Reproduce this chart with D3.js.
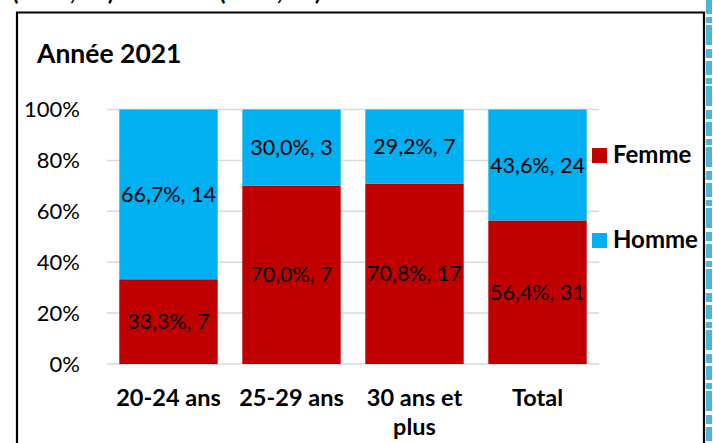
<!DOCTYPE html>
<html>
<head>
<meta charset="utf-8">
<script src="https://cdn.jsdelivr.net/npm/d3@7"></script>
<style>
  body { margin: 0; background: #fff; }
  svg { display: block; font-family: Lato, "Open Sans", sans-serif; }
</style>
</head>
<body>
<div id="chart"></div>
<script>
const categories = ["20-24 ans", "25-29 ans", "30 ans et plus", "Total"];
const categoryLines = [["20-24 ans"], ["25-29 ans"], ["30 ans et", "plus"], ["Total"]];
const femmePct = [33.3, 70.0, 70.8, 56.4];
const femmeCount = [7, 7, 17, 31];
const hommePct = [66.7, 30.0, 29.2, 43.6];
const hommeCount = [14, 3, 7, 24];
const yTicks = [0, 20, 40, 60, 80, 100];
const seriesNames = ["Femme", "Homme"];
const seriesColors = ["#C00000", "#00B0F0"];

document.addEventListener('DOMContentLoaded', function() {
    const width = 713, height = 443;
    const plot = {left: 107, right: 599, top: 109.5, bottom: 364};

    let svg = d3.select("#chart").append("svg")
        .attr("width", width)
        .attr("height", height);

    // text above the frame, cut off by the top edge as in the original
    svg.append("text").attr("x", 12).attr("y", 0)
        .attr("font-weight", "bold").attr("font-size", 24)
        .text("(en %, nb)");
    svg.append("text").attr("x", 219).attr("y", 0)
        .attr("font-weight", "bold").attr("font-size", 24)
        .text("(en %, nb)");

    // frame
    svg.append("path")
        .attr("d", `M17,${height + 5} V12.5 H704 V${height + 5}`)
        .attr("fill", "none").attr("stroke", "#000").attr("stroke-width", 2.2);

    // blue decoration on right edge
    svg.append("line")
        .attr("x1", 709).attr("x2", 709).attr("y1", 0).attr("y2", height)
        .attr("stroke", "#4fb3e0").attr("stroke-width", 6)
        .attr("stroke-dasharray", "14 3 6 2 20 4 9 3");

    svg.append("text")
        .attr("x", 37).attr("y", 63)
        .attr("font-weight", "bold").attr("font-size", 26.5)
        .text("Année 2021");

    let x = d3.scaleBand()
        .domain(categories)
        .range([plot.left, plot.right])
        .paddingInner(0.2)
        .paddingOuter(0.1);

    let y = d3.scaleLinear()
        .domain([0, 100])
        .range([plot.bottom, plot.top]);

    // gridlines
    svg.append("g")
        .selectAll("line")
        .data(yTicks)
        .enter().append("line")
        .attr("x1", plot.left).attr("x2", plot.right)
        .attr("y1", d => y(d)).attr("y2", d => y(d))
        .attr("stroke", "#d9d9d9").attr("stroke-width", 1.5);

    // y tick labels
    svg.append("g")
        .selectAll("text")
        .data(yTicks)
        .enter().append("text")
        .attr("x", 80)
        .attr("y", d => y(d))
        .attr("dy", "0.35em")
        .attr("text-anchor", "end")
        .attr("font-size", 22)
        .text(d => d + "%");

    const fmt = v => d3.format(".1f")(v).replace(".", ",");

    let rows = categories.map((c, i) => ({
        cat: c,
        segs: [
            {s: 0, y0: 0, y1: femmePct[i], pct: femmePct[i], n: femmeCount[i]},
            {s: 1, y0: femmePct[i], y1: femmePct[i] + hommePct[i], pct: hommePct[i], n: hommeCount[i]}
        ]
    }));

    let bar = svg.append("g")
        .selectAll("g")
        .data(rows)
        .enter().append("g");

    bar.selectAll("rect")
        .data(d => d.segs.map(s => Object.assign({cat: d.cat}, s)))
        .enter().append("rect")
        .attr("x", d => x(d.cat))
        .attr("width", x.bandwidth())
        .attr("y", d => y(Math.min(d.y1, 100)))
        .attr("height", d => y(d.y0) - y(Math.min(d.y1, 100)))
        .attr("fill", d => seriesColors[d.s]);

    bar.selectAll("text")
        .data(d => d.segs.map(s => Object.assign({cat: d.cat}, s)))
        .enter().append("text")
        .attr("x", d => x(d.cat) + x.bandwidth() / 2)
        .attr("y", d => (y(d.y0) + y(Math.min(d.y1, 100))) / 2)
        .attr("dy", "0.35em")
        .attr("text-anchor", "middle")
        .attr("font-size", 21.5)
        .text(d => fmt(d.pct) + "%, " + d.n);

    // category labels
    let xl = svg.append("g")
        .selectAll("text")
        .data(categories)
        .enter().append("text")
        .attr("x", d => x(d) + x.bandwidth() / 2)
        .attr("y", 406)
        .attr("text-anchor", "middle")
        .attr("font-weight", "bold")
        .attr("font-size", 23.5);
    xl.selectAll("tspan")
        .data((d, i) => categoryLines[i])
        .enter().append("tspan")
        .attr("x", function() { return this.parentNode.getAttribute("x"); })
        .attr("dy", (d, i) => i === 0 ? 0 : 29)
        .text(d => d);

    // legend
    let legend = svg.append("g")
        .selectAll("g")
        .data(seriesNames)
        .enter().append("g")
        .attr("transform", (d, i) => `translate(592,${148 + i * 85})`);
    legend.append("rect")
        .attr("width", 15).attr("height", 15)
        .attr("fill", (d, i) => seriesColors[i]);
    legend.append("text")
        .attr("x", 21).attr("y", 15)
        .attr("font-weight", "bold").attr("font-size", 24)
        .text(d => d);
});
</script>
</body>
</html>
